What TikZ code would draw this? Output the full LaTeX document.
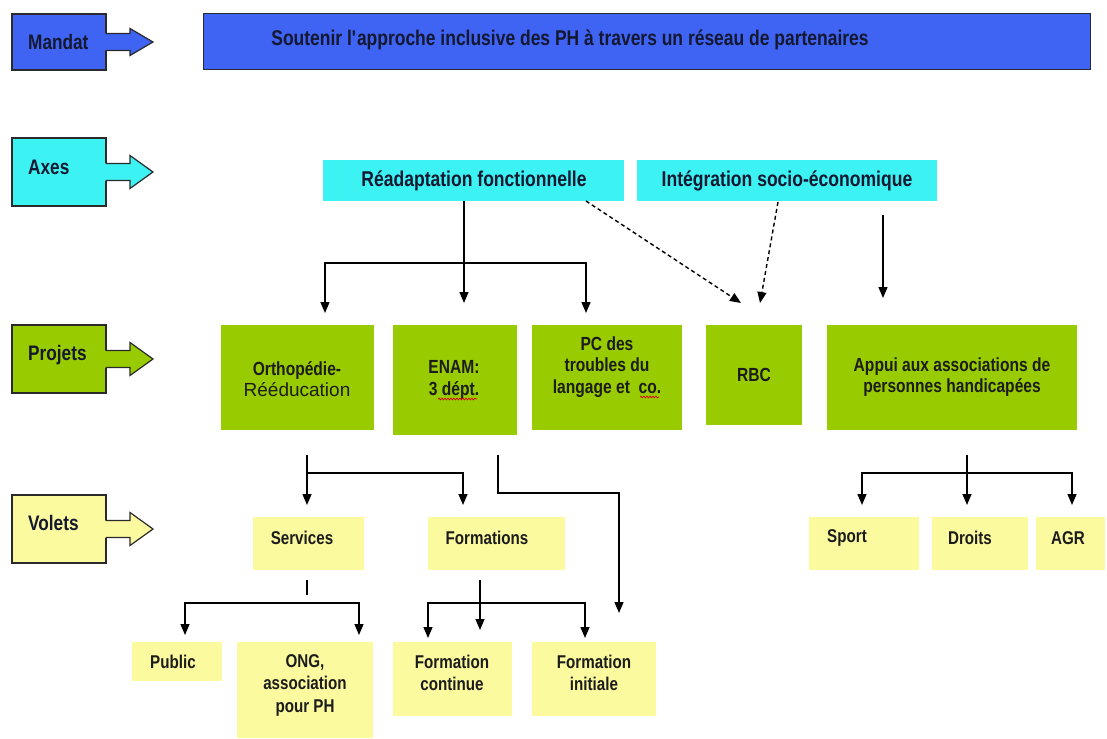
\documentclass[tikz,border=0pt]{standalone}
\usepackage{fontspec}
\setmainfont{Liberation Sans}[FakeStretch=0.82]
\newfontfamily\regfont{Liberation Sans}
\usetikzlibrary{arrows.meta,decorations.pathmorphing}
\definecolor{cblue}{HTML}{3F63F2}
\definecolor{ccyan}{HTML}{3DF2F2}
\definecolor{cgreen}{HTML}{99CC00}
\definecolor{cyellow}{HTML}{FBFA9E}
\definecolor{outl}{HTML}{2A2A2A}
\definecolor{ink}{HTML}{1C1C1C}
\definecolor{navy}{HTML}{141830}
\begin{document}
\begin{tikzpicture}[x=1pt,y=-1pt,
  bx/.style={rectangle,inner sep=0pt,outer sep=0pt,anchor=north west},
  lbl/.style={bx,draw=outl,line width=1.2pt},
  outlst/.style={draw=outl,line width=1.2pt,line join=miter},
  lbltxt/.style={anchor=west,inner sep=0pt,text=navy,font=\bfseries\fontsize{21}{23}\selectfont},
  ptxt/.style={align=center,inner sep=0pt,text=ink,font=\bfseries\fontsize{19}{21.5}\selectfont},
  ytxt/.style={align=center,inner sep=0pt,text=ink,font=\bfseries\fontsize{18.5}{22.5}\selectfont},
  ln/.style={line width=1.4pt,draw=black},
  arr/.style={ln,-{Triangle[width=9pt,length=11pt]}},
  dasharr/.style={arr,dash pattern=on 4pt off 3pt},
  wavy/.style={draw=red!85!black,line width=0.7pt,decorate,decoration={snake,amplitude=0.9pt,segment length=3pt}}
]
\useasboundingbox (0,0) rectangle (1107,738);
\fill[white] (0,0) rectangle (1107,738);

% ---- left labels ----
\node[lbl,fill=cblue,minimum width=94pt,minimum height=56pt] (mandat) at (12,14) {};
\node[lbl,fill=ccyan,minimum width=94pt,minimum height=68pt] (axes) at (12,138) {};
\node[lbl,fill=cgreen,minimum width=94pt,minimum height=68pt] (projets) at (12,325) {};
\node[lbl,fill=cyellow,minimum width=94pt,minimum height=68pt] (volets) at (12,495) {};
\foreach \c/\h/\col in {42/13.5/cblue,172/16.5/ccyan,359/16.5/cgreen,529/16.5/cyellow}{
  \fill[\col] (104,\c-8.5) -- (130,\c-8.5) -- (130,\c-\h) -- (153,\c) -- (130,\c+\h) -- (130,\c+8.5) -- (104,\c+8.5) -- cycle;
  \draw[outlst] (106,\c-8.5) -- (130,\c-8.5) -- (130,\c-\h) -- (153,\c) -- (130,\c+\h) -- (130,\c+8.5) -- (106,\c+8.5);
}
\node[lbltxt] (tmandat) at (28,42) {Mandat};
\node[lbltxt] (taxes) at (28,167) {Axes};
\node[lbltxt] (tprojets) at (28,355) {Projets};
\node[lbltxt] (tvolets) at (28,523) {Volets};

% ---- mandate ----
\node[bx,fill=cblue,draw=outl,line width=1pt,minimum width=887pt,minimum height=56pt] (title) at (203,14) {};
\node[ptxt,text=navy,font=\bfseries\fontsize{21.3}{23}\selectfont] (ttitle) at (570,40) {Soutenir l\textquotesingle approche inclusive des PH à travers un réseau de partenaires};

% ---- axes ----
\node[bx,fill=ccyan,minimum width=301pt,minimum height=41pt] (read) at (323,160) {};
\node[bx,fill=ccyan,minimum width=300pt,minimum height=41pt] (integ) at (637,160) {};
\node[ptxt,text=navy,font=\bfseries\fontsize{21.4}{23}\selectfont] (tread) at (474,181) {Réadaptation fonctionnelle};
\node[ptxt,text=navy,font=\bfseries\fontsize{21.4}{23}\selectfont] (tinteg) at (787,181) {Intégration socio-économique};

% ---- projets ----
\node[bx,fill=cgreen,minimum width=153pt,minimum height=105pt] (ortho) at (221,325) {};
\node[bx,fill=cgreen,minimum width=124pt,minimum height=110pt] (enam) at (393,325) {};
\node[bx,fill=cgreen,minimum width=150pt,minimum height=105pt] (pc) at (532,325) {};
\node[bx,fill=cgreen,minimum width=96pt,minimum height=100pt] (rbc) at (706,325) {};
\node[bx,fill=cgreen,minimum width=250pt,minimum height=105pt] (appui) at (827,325) {};
\node[ptxt] (tortho) at (297,379) {Orthopédie-\\{\regfont\mdseries Rééducation}};
\node[ptxt] (tenam) at (454,380) {ENAM:\\3 dépt.};
\node[ptxt] (tpc) at (607,367) {PC des\\troubles du\\langage et~ co.};
\node[ptxt] (trbc) at (754,375) {RBC};
\node[ptxt] (tappui) at (952,377) {Appui aux associations de\\personnes handicapées};
\draw[wavy] (438,399) -- (477,399);
\draw[wavy] (640,397) -- (659,397);

% ---- volets ----
\node[bx,fill=cyellow,minimum width=111pt,minimum height=53pt] (serv) at (253,517) {};
\node[bx,fill=cyellow,minimum width=137pt,minimum height=53pt] (form) at (428,517) {};
\node[bx,fill=cyellow,minimum width=110pt,minimum height=53pt] (sport) at (809,517) {};
\node[bx,fill=cyellow,minimum width=96pt,minimum height=53pt] (droits) at (932,517) {};
\node[bx,fill=cyellow,minimum width=69pt,minimum height=53pt] (agr) at (1036,517) {};
\node[ytxt] (tserv) at (302,538) {Services};
\node[ytxt] (tform) at (487,538) {Formations};
\node[ytxt] (tsport) at (847,538) {Sport};
\node[ytxt] (tdroits) at (970,538) {Droits};
\node[ytxt] (tagr) at (1068,538) {AGR};

% ---- sub-volets ----
\node[bx,fill=cyellow,minimum width=90pt,minimum height=39pt] (public) at (132,642) {};
\node[bx,fill=cyellow,minimum width=136pt,minimum height=96pt] (ong) at (237,642) {};
\node[bx,fill=cyellow,minimum width=119pt,minimum height=74pt] (fcont) at (393,642) {};
\node[bx,fill=cyellow,minimum width=124pt,minimum height=74pt] (finit) at (532,642) {};
\node[ytxt] (tpublic) at (173,662) {Public};
\node[ytxt] (tong) at (305,685) {ONG,\\association\\pour PH};
\node[ytxt] (tfcont) at (452,673) {Formation\\continue};
\node[ytxt] (tfinit) at (594,673) {Formation\\initiale};

% ---- connectors: axes -> projets ----
\coordinate (t1) at (325,313);
\coordinate (t2) at (464,303);
\coordinate (t3) at (586,313);
\coordinate (rbar) at (464,263);
\draw[arr] (read.south -| t2) -- (t2);
\draw[arr] (rbar) -| (t1);
\draw[arr] (rbar) -| (t3);
\coordinate (d1) at (741,303);
\draw[dasharr] (read.south -| t3) -- (d1);
\coordinate (d2s) at (778,202);
\coordinate (d2) at (760,303);
\draw[dasharr] (d2s) -- (d2);
\coordinate (s1) at (883,215);
\coordinate (s2) at (883,298);
\draw[arr] (s1) -- (s2);

% ---- projets -> volets ----
\coordinate (o0) at (307,455);
\coordinate (obar) at (307,473);
\coordinate (v1) at (307,505);
\coordinate (v2) at (463,505);
\draw[arr] (o0) -- (v1);
\draw[arr] (obar) -| (v2);
\coordinate (e0) at (498,455);
\coordinate (fi) at (619,613);
\draw[arr] (e0) -- ++(0,38) -| (fi);
\coordinate (a0) at (967,455);
\coordinate (abar) at (967,473);
\coordinate (w1) at (862,505);
\coordinate (w2) at (967,505);
\coordinate (w3) at (1072,505);
\draw[arr] (a0) -- (w2);
\draw[arr] (abar) -| (w1);
\draw[arr] (abar) -| (w3);

% ---- volets -> sub-volets ----
\coordinate (sv0) at (307,580);
\coordinate (sv1) at (307,595);
\draw[ln] (sv0) -- (sv1);
\coordinate (sbar) at (272,603);
\coordinate (tp) at (185,635);
\coordinate (to) at (359,635);
\draw[arr] (sbar) -| (tp);
\draw[arr] (sbar) -| (to);
\coordinate (f0) at (480,580);
\coordinate (f1) at (480,630);
\coordinate (fbar) at (480,603);
\coordinate (tc) at (428,638);
\coordinate (tin) at (585,638);
\draw[arr] (f0) -- (f1);
\draw[arr] (fbar) -| (tc);
\draw[arr] (fbar) -| (tin);
\end{tikzpicture}
\end{document}
